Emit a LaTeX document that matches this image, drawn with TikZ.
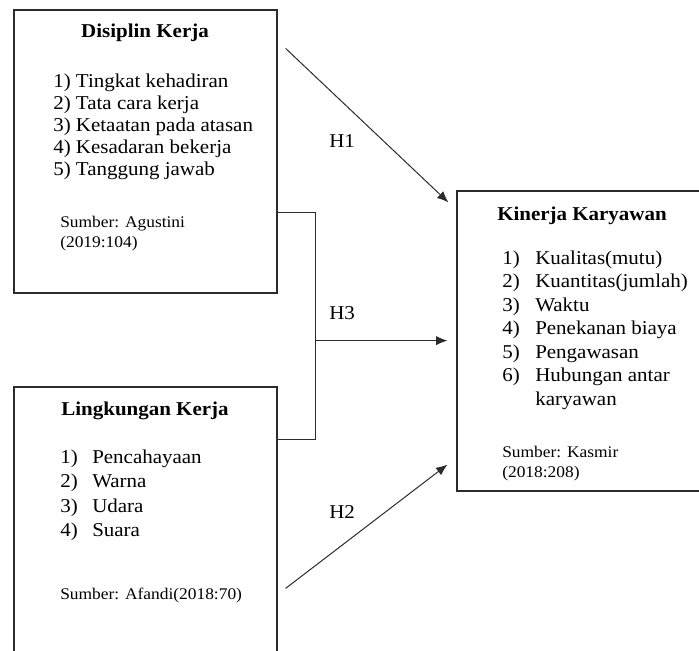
\documentclass[tikz,border=0pt]{standalone}
\usepackage{fontspec}
\setmainfont{Liberation Serif}[FakeStretch=1.07]
\usetikzlibrary{arrows.meta,positioning,fit,calc}
\definecolor{ink}{HTML}{2B2B2B}

\begin{document}
\begin{tikzpicture}[x=0.75pt,y=-0.75pt,box/.style={draw=ink,line width=0.9pt,inner sep=0pt},ttl/.style={font=\fontsize{14.7}{17}\selectfont\bfseries,inner sep=0pt,anchor=base},item/.style={font=\fontsize{14.7}{17}\selectfont,inner sep=0pt,anchor=base west},src/.style={font=\fontsize{12.2}{14}\selectfont,inner sep=0pt,anchor=base west},link/.style={-{Latex[length=8.5pt,width=7pt]},line width=0.75pt,ink}]
\useasboundingbox (0,0) rectangle (699,650);
\clip (0,0) rectangle (699,650);
% boxes
\node[box,fit={(14,10) (277,293)}] (disiplin) {};
\node[box,fit={(14,387) (277,670)}] (lingkungan) {};
\node[box,fit={(457,191) (720,491)}] (kinerja) {};
% Disiplin Kerja
\node[ttl] (dkttl) at (145,37) {Disiplin Kerja};
\foreach \t [count=\i] in {Tingkat kehadiran,Tata cara kerja,Ketaatan pada atasan,Kesadaran bekerja,Tanggung jawab}
  \node[item] (dk\i) at (53,{87+22*(\i-1)}) {\i) \t};
\node[src] (dksrc) at (60,227) {Sumber: Agustini};
\node[src] (dkyear) at (60,247) {(2019:104)};
% Lingkungan Kerja
\node[ttl] (lkttl) at (145,415) {Lingkungan Kerja};
\foreach \t [count=\i] in {Pencahayaan,Warna,Udara,Suara}
  \node[item] (lk\i) at (60,{463+24.5*(\i-1)}) {\makebox[24pt][l]{\i)}\t};
\node[src] (lksrc) at (60,599) {Sumber: Afandi(2018:70)};
% Kinerja Karyawan
\node[ttl] (kkttl) at (582,220) {Kinerja Karyawan};
\foreach \t [count=\i] in {Kualitas(mutu),Kuantitas(jumlah),Waktu,Penekanan biaya,Pengawasan,Hubungan antar}
  \node[item] (kk\i) at (502,{264+23.5*(\i-1)}) {\makebox[24.75pt][l]{\i)}\t};
\node[item] (kk7) at (535,405) {karyawan};
\node[src] (kksrc) at (502,457) {Sumber: Kasmir};
\node[src] (kkyear) at (502,477) {(2018:208)};
% hypotheses
\node[item] (h1) at (329,147) {H1};
\node[item] (h3) at (329,319) {H3};
\node[item] (h2) at (329,518) {H2};
\draw[link] ($(disiplin.north east)+(8,39)$) -- ($(kinerja.north west)+(-8,12)$);
\draw[ink,line width=0.75pt] ($(disiplin.south east)+(0,-81)$) -| ($(lingkungan.north east)+(38,53)$) -- ($(lingkungan.north east)+(0,53)$);
\coordinate (join) at ($(disiplin.south east)+(38,47)$);
\draw[link] (join) -- ($(join -| kinerja.west)+(-9,0)$);
\draw[link] ($(lingkungan.north east)+(8,202)$) -- ($(kinerja.south west)+(-9,-27)$);
\end{tikzpicture}
\end{document}
